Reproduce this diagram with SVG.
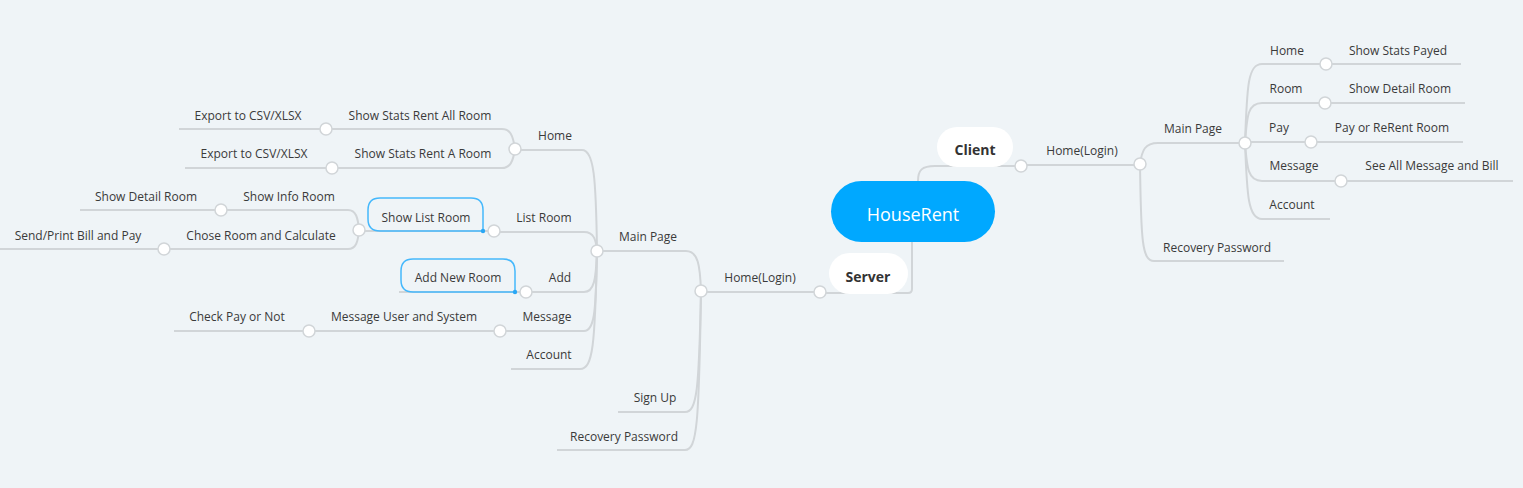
<svg xmlns="http://www.w3.org/2000/svg" width="1523" height="488" viewBox="0 0 1523 488">
<style>
.bg{fill:#eff4f7}
.ln{fill:none;stroke:#d1d5d8;stroke-width:2}
.kn{fill:#ffffff;stroke:#d1d5d8;stroke-width:1.5}
.t{font-family:"Open Sans","Noto Sans",sans-serif;font-size:12px;fill:#3a3a3a;text-anchor:middle;dominant-baseline:central}
.b{font-family:"Open Sans","Noto Sans",sans-serif;font-size:14px;font-weight:bold;fill:#333333;text-anchor:middle;dominant-baseline:central}
.pill{fill:#ffffff}
.box{fill:none;stroke:#45b8fc;stroke-width:1.5}
.dot{fill:#2aa7f5}
</style>
<rect class="bg" x="0" y="0" width="1523" height="488"/>
<g id="connectors">
<!-- central to client / server -->
<path class="ln" d="M918,181 C918,170 922,166 935,166 L1021,166"/>
<path class="ln" d="M1021,165 L1140,165"/>
<path class="ln" d="M912,242 L912,289 Q912,293 908,293 L820,293"/>
<!-- right side -->
<path class="ln" d="M1140,164 C1142,150 1145,143 1158,143 L1245,143"/>
<path class="ln" d="M1140,164 C1141,240 1142,261 1154,261 L1284,261"/>
<path class="ln" d="M1245,143 C1247,85 1248,64 1262,64 L1461,64"/>
<path class="ln" d="M1245,143 C1247,115 1248,103 1262,103 L1465,103"/>
<path class="ln" d="M1245,142 L1463,142"/>
<path class="ln" d="M1245,143 C1247,168 1248,181 1262,181 L1513,181"/>
<path class="ln" d="M1245,143 C1247,195 1248,219 1262,219 L1330,219"/>
<!-- left side -->
<path class="ln" d="M701,292 L820,292"/>
<path class="ln" d="M701,291 C700,265 698,251 686,251 L597,251"/>
<path class="ln" d="M701,291 C699,390 697,412 685,412 L618,412"/>
<path class="ln" d="M701,291 C699,425 697,450 685,450 L557,450"/>
<path class="ln" d="M597,251 C596,178 594,150 582,150 L515,150"/>
<path class="ln" d="M597,251 C596,240 594,232 584,232 L494,232"/>
<path class="ln" d="M597,251 C596,280 594,292 584,292 L399,292"/>
<path class="ln" d="M597,251 C596,315 594,331 584,331 L174,331"/>
<path class="ln" d="M597,251 C595,345 593,369 580,369 L511,369"/>
<path class="ln" d="M515,149 C513,135 510,129 502,129 L179,129"/>
<path class="ln" d="M515,149 C513,162 510,168 502,168 L185,168"/>
<path class="ln" d="M494,231 L359,231"/>
<path class="ln" d="M359,230 C358,218 356,210 348,210 L80,210"/>
<path class="ln" d="M359,230 C358,242 356,249 348,249 L0,249"/>
</g>
<g id="HouseRent">
<rect x="831" y="181" width="164" height="61" rx="30.5" fill="#00a8ff"/>
<text class="t" x="913" y="214" style="font-size:18px;fill:#ffffff">HouseRent</text>
</g>
<g id="Client">
<rect class="pill" x="937" y="127" width="76" height="40" rx="20"/>
<text class="b" x="975" y="149">Client</text>
</g>
<g id="Server">
<rect class="pill" x="829" y="253" width="79" height="41" rx="20.5"/>
<text class="b" x="868" y="276">Server</text>
</g>
<g id="r-home-login"><text class="t" x="1082" y="150">Home(Login)</text></g>
<g id="r-main-page"><text class="t" x="1193" y="128">Main Page</text></g>
<g id="r-recovery"><text class="t" x="1217" y="247">Recovery Password</text></g>
<g id="r-home"><text class="t" x="1287" y="50">Home</text></g>
<g id="r-stats-payed"><text class="t" x="1398" y="50">Show Stats Payed</text></g>
<g id="r-room"><text class="t" x="1286" y="88">Room</text></g>
<g id="r-detail-room"><text class="t" x="1400" y="88">Show Detail Room</text></g>
<g id="r-pay"><text class="t" x="1279" y="127">Pay</text></g>
<g id="r-pay-rerent"><text class="t" x="1392" y="127">Pay or ReRent Room</text></g>
<g id="r-message"><text class="t" x="1294" y="165">Message</text></g>
<g id="r-see-all"><text class="t" x="1432" y="165">See All Message and Bill</text></g>
<g id="r-account"><text class="t" x="1292" y="204">Account</text></g>
<g id="l-home-login"><text class="t" x="760" y="277">Home(Login)</text></g>
<g id="l-main-page"><text class="t" x="648" y="236">Main Page</text></g>
<g id="l-sign-up"><text class="t" x="655" y="397">Sign Up</text></g>
<g id="l-recovery"><text class="t" x="624" y="436">Recovery Password</text></g>
<g id="l-home"><text class="t" x="555" y="135">Home</text></g>
<g id="l-stats-all"><text class="t" x="420" y="115">Show Stats Rent All Room</text></g>
<g id="l-export-1"><text class="t" x="248" y="115">Export to CSV/XLSX</text></g>
<g id="l-stats-a"><text class="t" x="423" y="153">Show Stats Rent A Room</text></g>
<g id="l-export-2"><text class="t" x="254" y="153">Export to CSV/XLSX</text></g>
<g id="l-list-room"><text class="t" x="544" y="217">List Room</text></g>
<g id="l-show-list-room">
<path class="box" d="M483,231 L380,231 Q368,231 368,219 L368,210 Q368,198 380,198 L471,198 Q483,198 483,210 Z"/>
<circle class="dot" cx="483" cy="231" r="2.2"/>
<text class="t" x="426" y="217">Show List Room</text>
</g>
<g id="l-show-info"><text class="t" x="289" y="196">Show Info Room</text></g>
<g id="l-show-detail"><text class="t" x="146" y="196">Show Detail Room</text></g>
<g id="l-chose-room"><text class="t" x="261" y="235">Chose Room and Calculate</text></g>
<g id="l-send-print"><text class="t" x="78" y="235">Send/Print Bill and Pay</text></g>
<g id="l-add"><text class="t" x="560" y="277">Add</text></g>
<g id="l-add-new-room">
<path class="box" d="M515,292 L413,292 Q401,292 401,280 L401,271 Q401,259 413,259 L503,259 Q515,259 515,271 Z"/>
<circle class="dot" cx="515" cy="292" r="2.2"/>
<text class="t" x="458" y="277">Add New Room</text>
</g>
<g id="l-message"><text class="t" x="547" y="316">Message</text></g>
<g id="l-msg-user"><text class="t" x="404" y="316">Message User and System</text></g>
<g id="l-check-pay"><text class="t" x="237" y="316">Check Pay or Not</text></g>
<g id="l-account"><text class="t" x="549" y="354">Account</text></g>
<g id="knobs">
<circle class="kn" cx="1021" cy="166" r="6"/>
<circle class="kn" cx="1140" cy="164" r="6"/>
<circle class="kn" cx="1245" cy="143" r="6"/>
<circle class="kn" cx="1326" cy="64" r="6"/>
<circle class="kn" cx="1325" cy="103" r="6"/>
<circle class="kn" cx="1311" cy="142" r="6"/>
<circle class="kn" cx="1341" cy="181" r="6"/>
<circle class="kn" cx="820" cy="292" r="6"/>
<circle class="kn" cx="701" cy="291" r="6"/>
<circle class="kn" cx="597" cy="251" r="6"/>
<circle class="kn" cx="515" cy="149" r="6"/>
<circle class="kn" cx="326" cy="129" r="6"/>
<circle class="kn" cx="332" cy="168" r="6"/>
<circle class="kn" cx="494" cy="231" r="6"/>
<circle class="kn" cx="359" cy="230" r="6"/>
<circle class="kn" cx="221" cy="210" r="6"/>
<circle class="kn" cx="164" cy="249" r="6"/>
<circle class="kn" cx="526" cy="292" r="6"/>
<circle class="kn" cx="500" cy="331" r="6"/>
<circle class="kn" cx="309" cy="331" r="6"/>
</g>
</svg>
